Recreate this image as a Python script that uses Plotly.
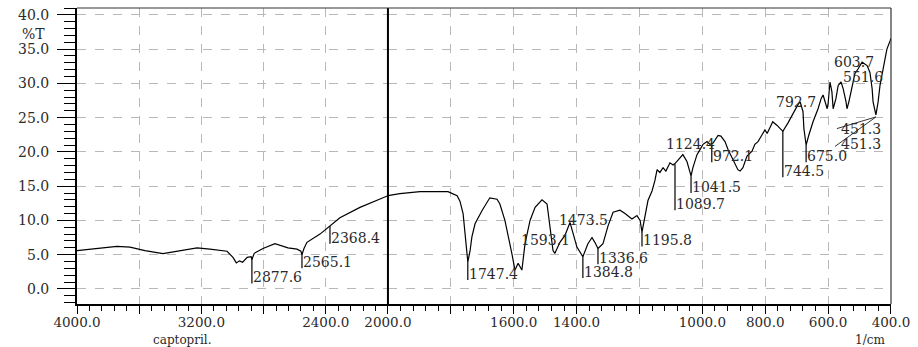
import plotly.graph_objects as go

# ---- spectrum data (wavenumber cm^-1, %T) ----
wn_left = [4000, 3852, 3743, 3659, 3563, 3447, 3338, 3228, 3145, 3035, 2997, 2975, 2955,
           2935, 2905, 2880, 2875, 2860, 2804, 2727, 2643, 2585, 2560, 2553, 2540, 2521,
           2437, 2373, 2309, 2180, 2071, 2000]
t_left = [5.6, 6.0, 6.2, 6.1, 5.6, 5.15, 5.6, 6.0, 5.8, 5.5, 4.6, 3.8, 4.1,
          3.9, 4.6, 4.7, 4.3, 5.2, 5.9, 6.6, 6.0, 5.8, 5.5, 5.0, 5.9, 6.8,
          8.0, 9.2, 10.4, 11.9, 12.9, 13.6]

wn_right = [2000, 1962, 1898, 1809, 1780, 1771, 1761, 1752, 1746, 1739, 1733, 1723, 1701,
            1676, 1653, 1644, 1628, 1606, 1596, 1586, 1574, 1564, 1548, 1532, 1510, 1494,
            1485, 1475, 1469, 1453, 1437, 1421, 1399, 1380, 1364, 1351, 1342, 1332, 1316,
            1300, 1284, 1262, 1246, 1224, 1208, 1198, 1192, 1182, 1173, 1160, 1151, 1144,
            1135, 1125, 1116, 1103, 1093, 1087, 1081, 1062, 1049, 1036, 1030, 1017, 1008,
            998, 985, 976, 966, 950, 941, 928, 918, 906, 896, 887, 880, 871, 858, 842, 833,
            823, 810, 801, 794, 785, 776, 763, 753, 744, 728, 712, 696, 689, 680, 677, 670,
            661, 648, 632, 622, 616, 610, 603, 600, 594, 588, 584, 575, 568, 559, 552, 543,
            540, 534, 524, 515, 505, 492, 476, 467, 460, 457, 448, 441, 435, 425, 419, 413,
            403, 400]
t_right = [13.6, 13.9, 14.2, 14.2, 13.6, 12.8, 11.0, 6.5, 3.95, 5.5, 7.6, 9.5, 11.4,
           13.3, 13.1, 12.4, 10.0, 5.2, 2.75, 3.75, 2.75, 6.6, 10.0, 11.9, 13.0, 12.4,
           9.5, 5.6, 5.2, 6.8, 7.8, 9.7, 6.1, 4.7, 6.6, 7.5, 6.8, 5.9, 6.6,
           9.2, 11.2, 11.5, 11.0, 10.2, 10.7, 10.0, 8.3, 10.9, 12.9, 14.3, 15.8, 17.4,
           17.0, 17.7, 17.2, 18.4, 18.1, 18.3, 18.6, 19.6, 18.6, 16.5, 17.7, 19.6, 20.3,
           21.1, 21.5, 21.1, 21.3, 22.4, 22.3, 21.5, 20.3, 19.1, 18.2, 17.4, 17.2, 17.7, 19.4, 20.1, 21.1,
           21.5, 22.5, 23.2, 22.7, 23.5, 24.4, 23.9, 23.5, 23.0, 24.2, 25.6, 26.9, 27.3, 25.9, 23.4, 21.0,
           22.5, 24.4, 26.3, 27.8, 28.3, 27.3, 26.3, 27.1, 30.2, 28.8, 26.3, 27.8, 29.7, 30.2, 29.2, 27.3,
           26.3, 27.3, 29.7, 31.4, 32.1, 33.1, 32.6, 31.6, 29.2, 27.3, 25.4, 27.3, 29.7, 32.1, 33.6, 35.0,
           36.2, 36.6]

# ---- peak labels (text, wavenumber, axis, curve value, text value) ----
peak_text = ["2877.6", "2565.1", "2368.4", "1747.4", "1593.1", "1473.5", "1384.8", "1336.6",
             "1195.8", "1089.7", "1041.5", "1124.4", "972.1", "792.7", "744.5", "675.0",
             "603.7", "551.6", "451.3", "451.3"]
peak_wn = [2875, 2553, 2373, 1746, 1580, 1459, 1380, 1332,
           1192, 1087, 1036, 1119, 970, 769, 744, 670,
           584, 555, 562, 562]
peak_axis = ["x", "x", "x", "x2", "x2", "x2", "x2", "x2",
             "x2", "x2", "x2", "x2", "x2", "x2", "x2", "x2",
             "x2", "x2", "x2", "x2"]
peak_top = [4.6, 5.4, 9.2, 3.95, None, None, 4.7, 5.9,
            8.3, 18.2, 16.5, None, 21.1, None, 23.0, 21.0,
            None, None, None, None]
peak_label_y = [1.7, 3.9, 7.5, 2.2, 7.1, 10.1, 2.5, 4.5,
                7.1, 12.4, 14.9, 21.2, 19.4, 27.3, 17.2, 19.4,
                33.1, 30.9, 23.4, 21.2]

# diagonal leaders of the 451.3 labels
diag_wn0 = [448, 448]
diag_t0 = [25.1, 25.1]
diag_wn1 = [572, 578]
diag_t1 = [23.4, 20.8]

y_ticks = [0, 5, 10, 15, 20, 25, 30, 35, 40]
y_text = ["0.0", "5.0", "10.0", "15.0", "20.0", "25.0", "30.0", "35.0", "40.0"]
x1_ticks = [4000, 3600, 3200, 2800, 2400]
x1_text = ["4000.0", "", "3200.0", "", "2400.0"]
x2_ticks = [2000, 1800, 1600, 1400, 1200, 1000, 800, 600, 400]
x2_text = ["2000.0", "", "1600.0", "1400.0", "", "1000.0", "800.0", "600.0", "400.0"]

FONT = "DejaVu Serif"
FS = 14
TXT = "#2a2a2a"
GRID = "#b8b8b8"

fig = go.Figure()
line_style = dict(color="black", width=1.2)
fig.add_trace(go.Scatter(x=wn_left, y=t_left, xaxis="x", yaxis="y", mode="lines",
                         line=line_style, showlegend=False, hoverinfo="skip"))
fig.add_trace(go.Scatter(x=wn_right, y=t_right, xaxis="x2", yaxis="y", mode="lines",
                         line=line_style, showlegend=False, hoverinfo="skip"))

shapes = []
annotations = []
for txt, w, ax, top, ly in zip(peak_text, peak_wn, peak_axis, peak_top, peak_label_y):
    annotations.append(dict(x=w, y=ly, xref=ax, yref="y", text=txt, showarrow=False,
                            xanchor="left", yanchor="middle", xshift=-1,
                            font=dict(family=FONT, size=FS, color=TXT)))
    if top is not None:
        shapes.append(dict(type="line", xref=ax, yref="y", x0=w, x1=w, y0=top, y1=ly - 0.9,
                           line=dict(color="black", width=1.2)))
for a0, b0, a1, b1 in zip(diag_wn0, diag_t0, diag_wn1, diag_t1):
    shapes.append(dict(type="line", xref="x2", yref="y", x0=a0, x1=a1, y0=b0, y1=b1,
                       line=dict(color="#333", width=1)))

# y tick labels placed beside the long outside ticks
for v, t in zip(y_ticks, y_text):
    annotations.append(dict(x=-0.032, y=v, xref="paper", yref="y", text=t, showarrow=False,
                            xanchor="right", yanchor="middle",
                            font=dict(family=FONT, size=FS, color=TXT)))

# separator at 2000 and frame
shapes.append(dict(type="line", xref="x2 domain", yref="paper", x0=0, x1=0, y0=0, y1=1,
                   line=dict(color="black", width=2)))
shapes.append(dict(type="line", xref="paper", yref="paper", x0=0, x1=1, y0=1, y1=1,
                   line=dict(color="#333", width=1.2)))
shapes.append(dict(type="line", xref="paper", yref="paper", x0=1, x1=1, y0=0, y1=1,
                   line=dict(color="#333", width=1.2)))

annotations.append(dict(x=-0.054, y=37.2, xref="paper", yref="y", text="%T", showarrow=False,
                        xanchor="center", yanchor="middle",
                        font=dict(family=FONT, size=FS, color=TXT)))
annotations.append(dict(x=0.130, y=-0.122, xref="paper", yref="paper", text="captopril.",
                        showarrow=False, xanchor="center", yanchor="middle",
                        font=dict(family=FONT, size=12, color=TXT)))
annotations.append(dict(x=0.974, y=-0.122, xref="paper", yref="paper", text="1/cm",
                        showarrow=False, xanchor="center", yanchor="middle",
                        font=dict(family=FONT, size=12, color=TXT)))

common_x = dict(showline=True, linecolor="black", linewidth=1.5, ticks="outside",
                ticklen=8, tickcolor="black", tickwidth=1.2, showgrid=True,
                gridcolor=GRID, griddash="dash", gridwidth=1, zeroline=False,
                ticklabelstandoff=-3,
                tickfont=dict(family=FONT, size=13.5, color=TXT), tickmode="array")

fig.update_layout(
    width=918, height=347,
    margin=dict(l=77, r=27, t=8, b=43),
    paper_bgcolor="white", plot_bgcolor="white",
    xaxis=dict(domain=[0, 0.382], range=[4000, 2000], anchor="y",
               tickvals=x1_ticks, ticktext=x1_text,
               minor=dict(tickmode="linear", tick0=4000, dtick=80, ticks="outside",
                          ticklen=5, tickcolor="black", showgrid=False),
               **common_x),
    xaxis2=dict(domain=[0.382, 1], range=[2000, 400], anchor="y",
                tickvals=x2_ticks, ticktext=x2_text,
                minor=dict(tickmode="linear", tick0=400, dtick=40, ticks="outside",
                           ticklen=5, tickcolor="black", showgrid=False),
                **common_x),
    yaxis=dict(range=[-2.2, 41], anchor="x", showline=True, linecolor="black", linewidth=2,
               ticks="outside", ticklen=18, tickcolor="black", tickwidth=1.2,
               tickmode="array", tickvals=y_ticks, showticklabels=False,
               minor=dict(tickmode="linear", tick0=0, dtick=1, ticks="outside", ticklen=11,
                          tickcolor="black", showgrid=False),
               showgrid=True, gridcolor=GRID, griddash="dash", gridwidth=1, zeroline=False),
    shapes=shapes,
    annotations=annotations,
)

fig.write_html("out.html", config={"displayModeBar": False},
               post_script="document.body.style.margin='0';document.body.style.overflow='hidden';")
